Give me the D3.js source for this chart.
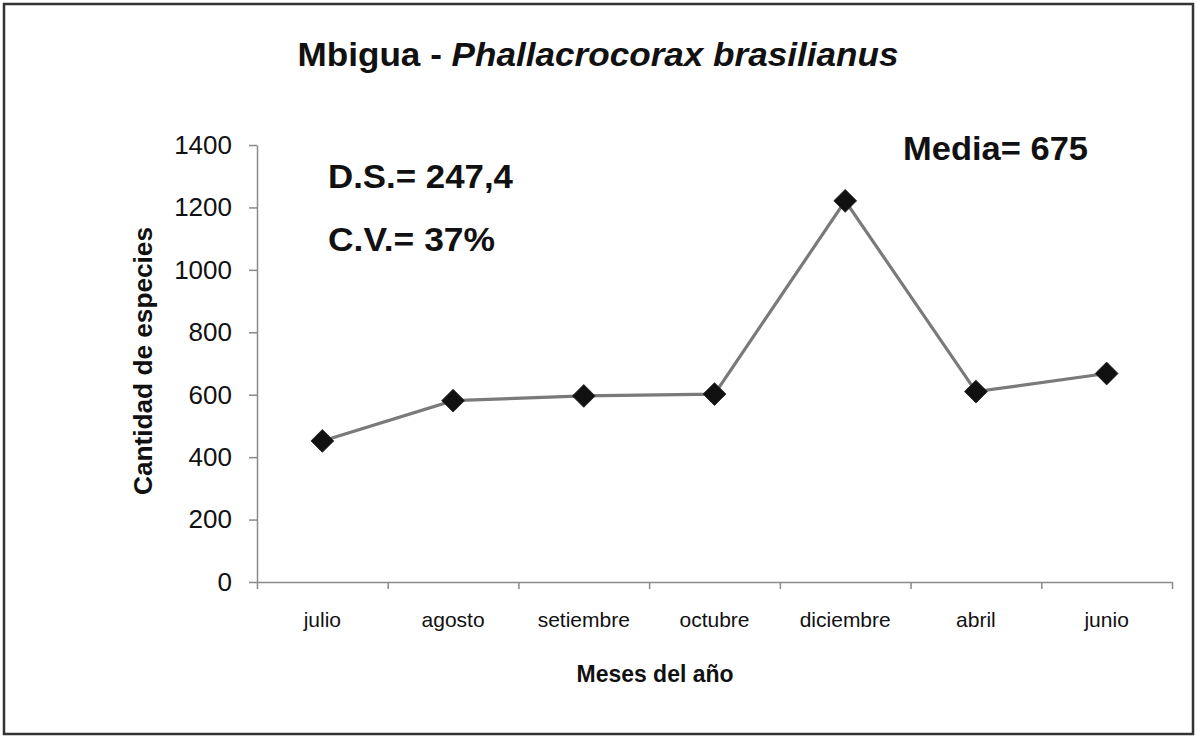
<!DOCTYPE html>
<html>
<head>
<meta charset="utf-8">
<script src="https://cdn.jsdelivr.net/npm/d3@7"></script>
<style>
  html, body { margin: 0; padding: 0; background: #fff; }
  svg { display: block; font-family: "Liberation Sans", Arial, sans-serif; }
</style>
</head>
<body>
<svg id="chart" width="1197" height="736"></svg>
<script>
const months = ["julio", "agosto", "setiembre", "octubre", "diciembre", "abril", "junio"];
const counts = [452, 581, 596, 602, 1221, 610, 668];
const yTicks = [0, 200, 400, 600, 800, 1000, 1200, 1400];
const titleMain = "Mbigua - ";
const titleSpecies = "Phallacrocorax brasilianus";
const yLabel = "Cantidad de especies";
const xLabel = "Meses del año";
const stats = ["D.S.= 247,4", "C.V.= 37%"];
const meanLabel = "Media= 675";

(function () {
const svg = d3.select("#chart");
const W = 1197, H = 736;

// outer frame
svg.append("rect").attr("x", 4).attr("y", 4).attr("width", W - 8).attr("height", H - 6)
  .attr("fill", "#fff").attr("stroke", "#333").attr("stroke-width", 2.5);

const pLeft = 257, pRight = 1172, pTop = 145, pBottom = 582;

const x = d3.scaleBand().domain(months).range([pLeft, pRight]).paddingInner(0).paddingOuter(0);
const xEdge = d3.scaleLinear().domain([0, months.length]).range([pLeft, pRight]);
const y = d3.scaleLinear().domain([0, 1400]).range([pBottom, pTop]);

// Y axis
const yAxis = svg.append("g").attr("transform", `translate(${pLeft},0)`)
  .call(d3.axisLeft(y).tickValues(yTicks).tickFormat(d3.format("d"))
    .tickSize(8).tickSizeOuter(0).tickPadding(17));
yAxis.select(".domain").attr("stroke", "#8a8a8a").attr("stroke-width", 1.5);
yAxis.selectAll(".tick line").attr("stroke", "#8a8a8a").attr("stroke-width", 1.5);
yAxis.selectAll(".tick text").attr("font-size", 26).attr("fill", "#111")
  .attr("font-family", "Liberation Sans, Arial, sans-serif");

// X axis (ticks at category boundaries)
const xAxis = svg.append("g").attr("transform", `translate(0,${pBottom})`)
  .call(d3.axisBottom(xEdge).tickValues(d3.range(months.length + 1)).tickFormat("").tickSize(7).tickSizeOuter(0));
xAxis.select(".domain").attr("stroke", "#8a8a8a").attr("stroke-width", 1.5);
xAxis.selectAll(".tick line").attr("stroke", "#8a8a8a").attr("stroke-width", 1.5);

// X category labels
svg.append("g").selectAll("text").data(months).join("text")
  .attr("x", d => x(d) + x.bandwidth() / 2)
  .attr("y", 627)
  .attr("text-anchor", "middle")
  .attr("font-size", 21)
  .attr("fill", "#111")
  .text(d => d);

// line
const line = d3.line()
  .x((d, i) => x(months[i]) + x.bandwidth() / 2)
  .y(d => y(d));
svg.append("path").datum(counts)
  .attr("d", line)
  .attr("fill", "none")
  .attr("stroke", "#7a7a7a")
  .attr("stroke-width", 3.2);

// diamond markers
const diamond = d3.symbol().type(d3.symbolSquare).size(260);
svg.append("g").selectAll("path").data(counts).join("path")
  .attr("d", diamond)
  .attr("transform", (d, i) => `translate(${x(months[i]) + x.bandwidth() / 2},${y(d)}) rotate(45)`)
  .attr("fill", "#111")
  .attr("stroke", "#222")
  .attr("stroke-width", 0.8);

// Title
const title = svg.append("text")
  .attr("x", 598).attr("y", 66)
  .attr("text-anchor", "middle")
  .attr("font-size", 34).attr("font-weight", "bold").attr("fill", "#111")
  .attr("textLength", 601).attr("lengthAdjust", "spacingAndGlyphs");
title.append("tspan").text(titleMain);
title.append("tspan").attr("font-style", "italic").text(titleSpecies);

// Y axis title
svg.append("text")
  .attr("transform", "translate(152,361) rotate(-90)")
  .attr("text-anchor", "middle")
  .attr("font-size", 25).attr("font-weight", "bold").attr("fill", "#111")
  .attr("textLength", 268).attr("lengthAdjust", "spacingAndGlyphs")
  .text(yLabel);

// X axis title
svg.append("text")
  .attr("x", 655).attr("y", 682)
  .attr("text-anchor", "middle")
  .attr("font-size", 24).attr("font-weight", "bold").attr("fill", "#111")
  .attr("textLength", 157).attr("lengthAdjust", "spacingAndGlyphs")
  .text(xLabel);

// Stats annotations
const statWidths = [185, 167];
svg.append("g").selectAll("text").data(stats).join("text")
  .attr("x", 328)
  .attr("y", (d, i) => 188 + i * 63)
  .attr("font-size", 33).attr("font-weight", "bold").attr("fill", "#111")
  .attr("textLength", (d, i) => statWidths[i]).attr("lengthAdjust", "spacingAndGlyphs")
  .text(d => d);

svg.append("text")
  .attr("x", 903).attr("y", 160)
  .attr("font-size", 33).attr("font-weight", "bold").attr("fill", "#111")
  .attr("textLength", 185).attr("lengthAdjust", "spacingAndGlyphs")
  .text(meanLabel);
})();
</script>
</body>
</html>
